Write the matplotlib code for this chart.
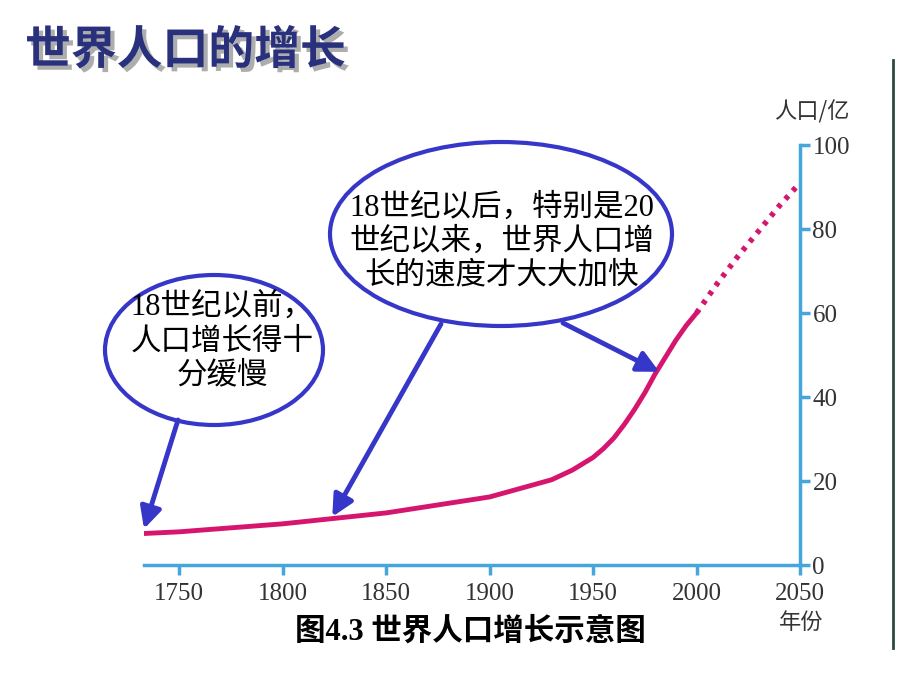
import matplotlib
matplotlib.use('Agg')
import matplotlib.pyplot as plt
import matplotlib.patheffects as pe
from matplotlib.patches import Ellipse

# world population, 亿
years = [1733, 1750, 1800, 1850, 1900, 1930, 1940, 1950, 1955, 1960, 1965, 1970, 1975,
         1980, 1985, 1990, 1995, 2000]
pop = [7.5, 7.9, 9.8, 12.4, 16.2, 20.3, 22.6, 25.6, 27.7, 30.2, 33.4, 37, 41,
       45.5, 49.5, 53.5, 57, 60]
proj_years = [2000, 2010, 2020, 2030, 2040, 2050]
proj_pop = [60, 67, 73.5, 79.5, 85.5, 91]

xticks = [1750, 1800, 1850, 1900, 1950, 2000, 2050]
yticks = [0, 20, 40, 60, 80, 100]

notes = ['18世纪以前，\n人口增长得十\n分缓慢',
         '18世纪以后，特别是20\n世纪以来，世界人口增\n长的速度才大大加快']

MIX = ['Liberation Serif', 'Noto Sans CJK SC']
CJK = ['Noto Sans CJK SC', 'DejaVu Sans']
AXIS_C = '#45A6DD'
LINE_C = '#D6166E'
BLUE = '#3636C8'

fig = plt.figure(figsize=(9.2, 6.9), dpi=100)

W, H = 920, 690
left, right, bottom, top = 144, 800, 565, 145
ax = fig.add_axes([left / W, (H - bottom) / H, (right - left) / W, (bottom - top) / H])
ax.set_xlim(1733, 2050)
ax.set_ylim(0, 100)
ax.patch.set_alpha(0)

ax.plot(years, pop, color=LINE_C, lw=3.5, solid_capstyle='round', solid_joinstyle='round')
ax.plot(proj_years, proj_pop, color=LINE_C, lw=4, linestyle=(0, (0.8, 1.2)))

for s in ['top', 'left']:
    ax.spines[s].set_visible(False)
for s in ['bottom', 'right']:
    ax.spines[s].set_color(AXIS_C)
    ax.spines[s].set_linewidth(2.5)
ax.yaxis.tick_right()
ax.set_xticks(xticks)
ax.set_yticks(yticks)
ax.tick_params(axis='both', color=AXIS_C, width=2.5, length=7, direction='out',
               labelsize=18, labelcolor='#333333', pad=2)
ax.tick_params(axis='x', pad=6)
for lab in ax.get_xticklabels() + ax.get_yticklabels():
    lab.set_family('Liberation Serif')

# overlay in pixel coordinates
ax0 = fig.add_axes([0, 0, 1, 1])
ax0.set_xlim(0, W)
ax0.set_ylim(H, 0)
ax0.axis('off')
ax0.patch.set_alpha(0)

ax0.text(25, 51, '世界人口的增长', fontsize=33, fontweight='bold', color='#29307C',
         va='center', ha='left', family=CJK,
         path_effects=[pe.SimplePatchShadow(offset=(3, -3), shadow_rgbFace='#8a8a8a', alpha=0.7),
                       pe.Normal()])

ax0.text(812, 112, '人口/亿', fontsize=16, color='#333333', ha='center', va='center', family=CJK)
ax0.text(801, 622, '年份', fontsize=16, color='#333333', ha='center', va='center', family=CJK)
ax0.text(470, 632, '图4.3 世界人口增长示意图', fontsize=22, fontweight='bold', color='black',
         ha='center', va='center', family=MIX)

ax0.plot([893, 893], [60, 648], color='#2E4A3C', lw=2)

ax0.add_patch(Ellipse((214, 350), 218, 150, facecolor='white', edgecolor=BLUE, lw=3, zorder=3))
ax0.add_patch(Ellipse((501, 234), 342, 184, facecolor='white', edgecolor=BLUE, lw=3, zorder=3))

ax0.text(222, 342, notes[0], fontsize=22, ha='center', va='center', family=MIX,
         linespacing=1.2, zorder=4)
ax0.text(502, 242, notes[1], fontsize=22, ha='center', va='center', family=MIX,
         linespacing=1.2, zorder=4)

arrows = [((1733, 8.6), (178, 420)), ((1824, 11.5), (441, 324)), ((1982, 46), (563, 323))]
for tip, tail in arrows:
    ax0.annotate('', xy=tip, xycoords=ax.transData, xytext=tail, textcoords='data',
                 arrowprops=dict(arrowstyle='-|>', color=BLUE, lw=3.5, mutation_scale=32,
                                 shrinkA=0, shrinkB=0), zorder=5)

fig.savefig('out.png', dpi=100)
